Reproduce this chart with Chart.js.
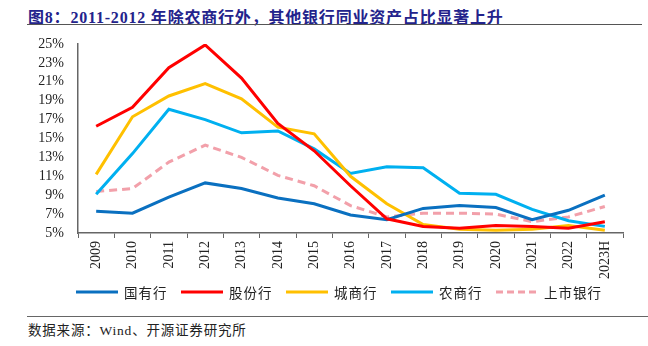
<!DOCTYPE html>
<html>
<head>
<meta charset="utf-8">
<script src="https://cdn.jsdelivr.net/npm/chart.js@4"></script>
<style>
  body{margin:0;background:#fff;}
  #wrap{position:relative;width:648px;height:346px;overflow:hidden;}
  #title{position:absolute;left:28px;top:4px;font:bold 16px "Liberation Serif","Noto Sans CJK SC";letter-spacing:0.8px;color:#23238c;white-space:nowrap;}
  #titleLine{position:absolute;left:27px;top:24px;width:615px;height:0;border-top:1.5px solid #555;}
  #chartBox{position:absolute;left:0;top:30px;width:648px;height:255px;}
  #legend{position:absolute;left:76px;top:283px;height:18px;display:flex;}
  .item{width:105px;flex:none;display:flex;align-items:center;font:13.5px "Noto Sans CJK SC";color:#222;letter-spacing:1px;white-space:nowrap;}
  .item svg{margin-right:6px;flex:none;}
  #srcLine{position:absolute;left:27px;top:316px;width:621px;border-top:1.5px solid #666;}
  #source{position:absolute;left:28px;top:319px;font:13.5px "Liberation Serif","Noto Sans CJK SC";color:#222;letter-spacing:0.8px;white-space:nowrap;}
</style>
</head>
<body>
<div id="wrap">
  <div id="title">图8：2011-2012 年除农商行外，其他银行同业资产占比显著上升</div>
  <div id="titleLine"></div>
  <div id="chartBox"><canvas id="chart"></canvas></div>
  <div id="legend"></div>
  <div id="srcLine"></div>
  <div id="source">数据来源：Wind、开源证券研究所</div>
</div>
<script>
let years = ["2009","2010","2011","2012","2013","2014","2015","2016","2017","2018","2019","2020","2021","2022","2023H"];
let seriesNames = ["国有行","股份行","城商行","农商行","上市银行"];
let colors = ["#0a70c0","#ff0000","#ffc000","#00b0f0","#f2a0aa"];

let stateBanks   = [7.3,7.1,8.8,10.3,9.7,8.7,8.1,6.9,6.4,7.6,7.9,7.7,6.4,7.4,9.0];
let jointBanks   = [16.3,18.3,22.5,24.9,21.4,16.6,13.7,10.0,6.5,5.7,5.5,5.8,5.7,5.5,6.2];
let cityBanks    = [11.2,17.3,19.5,20.8,19.2,16.2,15.5,11.0,8.1,5.9,5.4,5.3,5.4,5.8,5.3];
let ruralBanks   = [9.1,13.4,18.1,17.0,15.6,15.8,13.9,11.3,12.0,11.9,9.2,9.1,7.5,6.3,5.7];
let listedBanks  = [9.4,9.7,12.5,14.3,13.0,11.1,10.0,7.9,6.7,7.1,7.1,7.0,6.2,6.7,7.8];
let yTicks = [5,7,9,11,13,15,17,19,21,23,25];

let allSeries = [stateBanks, jointBanks, cityBanks, ruralBanks, listedBanks];

let datasets = allSeries.map((vals,i)=>({
  label: seriesNames[i],
  data: vals,
  borderColor: colors[i],
  backgroundColor: colors[i],
  borderWidth: 3,
  borderDash: i===4 ? [8,5] : [],
  pointRadius: 0,
  tension: 0,
  fill: false
}));

// dashed listed-bank line sits at the back
datasets[4].order = 5;
datasets[3].order = 4;
datasets[2].order = 3;
datasets[0].order = 2;
datasets[1].order = 1;

const axisColor = "#666";
new Chart(document.getElementById("chart"),{
  type:'line',
  data:{ labels: years, datasets: datasets },
  options:{
    responsive:true,
    maintainAspectRatio:false,
    animation:false,
    layout:{ padding:{ top:14, right:25, left:0, bottom:0 } },
    plugins:{ legend:{display:false}, tooltip:{enabled:false} },
    scales:{
      x:{
        offset:true,
        grid:{ offset:true, drawOnChartArea:false, drawTicks:true, tickLength:5, color:axisColor },
        border:{ display:true, color:axisColor, width:1.5 },
        ticks:{ minRotation:90, maxRotation:90, autoSkip:false, padding:3, color:"#222",
                font:{ family:"Liberation Serif", size:14 } },
        afterFit: s => { s.height = 52; s.paddingLeft = 0; s.paddingRight = 0; }
      },
      y:{
        min:5, max:25,
        afterBuildTicks: s => { s.ticks = yTicks.map(v=>({value:v})); },
        grid:{ display:false, drawTicks:false },
        border:{ display:true, color:axisColor, width:1.5 },
        ticks:{ autoSkip:false, padding:14, color:"#222", font:{ family:"Liberation Serif", size:14 },
                callback: v => v + "%" },
        afterFit: s => { s.width = 78; s.paddingTop = 0; s.paddingBottom = 0; }
      }
    }
  }
});

let lg = document.getElementById("legend");
seriesNames.forEach((n,i)=>{
  let dash = i===4 ? 'stroke-dasharray="7 4"' : '';
  lg.innerHTML += `<div class="item"><svg width="42" height="6"><line x1="0" y1="3" x2="42" y2="3" stroke="${colors[i]}" stroke-width="3" ${dash}/></svg>${n}</div>`;
});
</script>
</body>
</html>
